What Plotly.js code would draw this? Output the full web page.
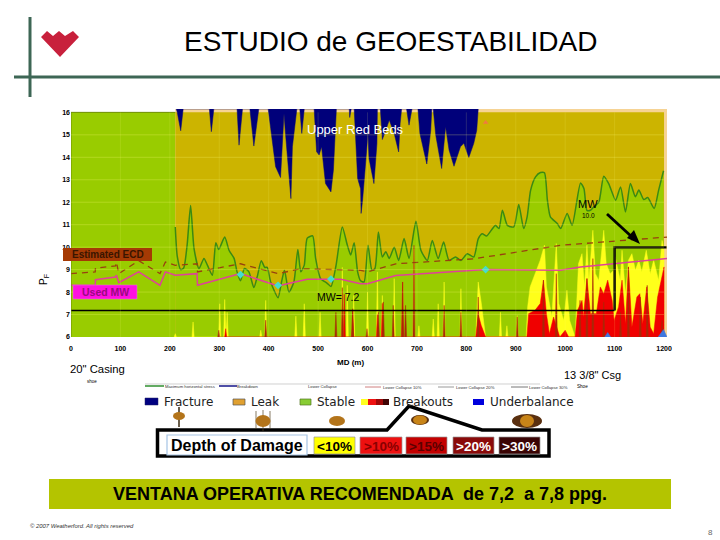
<!DOCTYPE html>
<html>
<head>
<meta charset="utf-8">
<script src="https://cdn.plot.ly/plotly-3.0.1.min.js"></script>
<style>html,body{margin:0;padding:0;background:#fff}#c{width:720px;height:540px}</style>
</head>
<body>
<div id="c"></div>
<script>
// ---------- chart values ----------
const depthTicks = [0,100,200,300,400,500,600,700,800,900,1000,1100,1200];
const ppgTicks = [6,7,8,9,10,11,12,13,14,15,16];

const leakMD = [211,215,222,228,235,242,249,259,269,276,286,293,299,311,320,330,336,343,351,360,370,377,385,392,397,404,419,426,432,441,451,459,465,472,478,489,495,505,518,526,536,549,559,566,573,580,586,593,601,609,615,622,630,637,644,654,663,674,684,698,708,721,731,743,754,765,778,789,802,815,824,832,841,853,859,866,873,883,896,906,916,923,930,940,950,958,964,970,984,991,1004,1014,1031,1038,1044,1051,1058,1068,1078,1088,1102,1112,1122,1132,1142,1149,1159,1167,1180,1189,1199];
const leakPpg = [10.9,9.6,9.0,9.07,10.1,11.85,9.93,9.04,9.5,9.2,8.75,10.2,9.9,10.45,9.85,9.5,8.9,8.5,9.05,8.9,8.2,8.7,9.4,9.1,9.1,8.45,7.75,8.45,8.97,8.0,8.45,9.9,8.9,9.2,10.4,10.5,9.5,8.6,8.4,8.25,9.15,10.9,10.1,9.65,10.2,8.9,8.5,8.45,10.08,8.97,9.05,10.67,9.56,9.8,9.5,10.0,9.41,10.38,9.5,11.15,9.86,9.41,10.3,9.49,10.23,9.41,9.56,9.41,9.71,9.56,10.37,10.6,10.5,10.83,10.97,10.83,11.64,10.97,10.9,11.9,10.83,11.35,12.53,13.13,13.32,13.31,12.09,11.35,11.05,10.83,11.5,10.97,12.86,12.6,11.64,11.64,11.8,12.0,13.16,12.83,12.09,12.68,11.57,12.83,12.24,12.54,12.12,12.21,11.72,12.53,13.4];

const fracTop = 16.15;
const fracMD = [213,215,222,227,280,284,289,336,340,347,362,370,380,399,404,414,424,431,434,445,448,455,457,463,467,472,492,497,502,507,515,526,531,537,563,564,567,573,580,586,587,590,597,601,603,613,619,620,626,630,637,644,654,663,666,669,679,684,690,702,706,720,728,730,733,738,750,758,765,775,788,795,805,815,821,824];
const fracPpg = [16.15,16,15.18,16.15,16.15,15.14,16.15,16.15,14.54,16.15,16.15,14.5,16.15,16.15,15.29,13.58,13.1,15.95,15.06,12.16,14.47,15.88,16.15,16.15,15.06,16.15,16.15,14.25,14.1,14.47,12.83,12.46,13.43,16.15,16.15,15.77,16.15,16.15,13.06,12.6,11.5,12.09,14.17,15.06,13.95,12.83,14.6,16.15,16.15,14.79,15.2,15.66,15.06,14.24,15.5,16.15,16.15,15.43,16.15,16.15,15.06,13.7,15.21,16.15,16.15,14.99,13.5,15.36,14.32,13.6,14.47,14.62,13.99,14.62,15.2,16.15];

const yellowSpikeMD = [211,247,301,311,316,384,394,455,472,504,549,559,572,600,620,630,654,671,694,704,733,743,755,789,869,882,903];
const yellowSpikePpg = [6.15,6.67,7.48,7.67,7.1,6.3,7.63,6.93,7.48,7.1,9.1,8.3,7.85,8.0,8.9,7.85,8.6,8.45,9.93,6.5,6.8,7.48,8.45,8.15,7.1,6.5,6.95];
const yellowBandMD = [819,824,830,839,921,924,929,939,949.5,958,962,973,982,987,997,1003.5,1009,1020,1024,1027,1034,1039,1044,1048,1056,1061,1068,1078,1083,1091,1098,1101,1111.5,1115,1122,1128,1135,1142,1149,1155,1164,1172,1179,1189,1196,1200,1200];
const yellowBandPpg = [6,8.45,7.55,6,6,7.34,8.23,8.82,9.42,10.09,8.23,6.9,10.16,7.49,6.74,8.08,6.74,6,7.78,9.27,9.71,8.23,10.09,8.52,10.75,8.82,8.52,10.75,9.27,8.82,8.97,9.57,8.52,9.86,7.93,9.42,9.71,8.97,9.42,8.9,9.86,8.82,9.42,8.52,10.3,9.9,6];

const redSpikeMD = [313,553,570,620,630,671];
const redSpikePpg = [6.37,7.9,7.2,7.0,7.5,8.45];
const redBandMD = [819,824,830,839,922.5,926,939,949.5,956,962,968,976.5,989,1000,1007,1020,1025,1034,1037,1044,1051,1063,1071,1078,1086,1095,1099,1108,1115,1122,1128,1135,1145,1151,1157,1165,1172,1179,1187,1196,1200,1200];
const redBandPpg = [6,7.0,6.52,6,6,7.04,7.19,7.49,8.53,7.04,6.15,6.89,6,6.3,6,6,7.19,7.63,6.89,8.6,7.04,7.04,8.23,7.93,8.53,7.63,6.74,7.34,8.53,6.59,9.12,6.44,7.78,7.93,6.59,8.23,6.44,6.15,7.78,8.82,9.12,6];

const darkSpikeMD = [299,394,536,549,570,599,622,632,652,671,677,694,755,789,824,903,956,982,1030,1044,1056,1078,1112,1128,1152,1166,1196];
const darkSpikePpg = [6.3,6.75,7.1,8.2,7.26,6.37,7.1,7.56,7.41,8.45,7.41,10.08,7.41,7.1,7.78,6.9,8.53,8.82,7.63,8.6,9.49,7.56,7.1,9.12,7.78,8.3,6.74];

const mwMD = [0,49,49.5,90,92,96.6,137,180,191,211,255,256,343,419,438,478,546,586,600,657,839,990,1031,1206];
const mwPpg = [8.3,8.3,8.55,8.67,8.75,8.42,8.9,8.3,8.9,8.75,8.82,8.3,8.82,8.27,8.37,8.57,8.57,8.37,8.37,8.74,9.0,8.97,9.12,9.49];
const ecdMD = [0,49,49.5,90,92,96.6,137,180,191,211,255,256,343,419,465,586,600,657,815,839,990,1206];
const ecdPpg = [8.82,8.9,9.07,9.16,9.34,8.82,9.4,8.82,9.34,9.19,9.26,8.9,9.26,8.82,9.04,8.97,8.9,9.26,9.48,9.56,10.08,10.45];
const lowWindowMD = [0,1100];
const lowWindowPpg = [7.18,7.18];
const highWindowMD = [1100,1100,1205];
const highWindowPpg = [7.18,9.99,9.99];
const surveyMD = [343,419,526,839];
const surveyPpg = [8.78,8.3,8.58,9.0];
const underMD = [1080,1086,1092];
const underPpg = [6,6.2,6];
const under2MD = [1188,1199,1206];
const under2Ppg = [6,6.33,6];
const flagMD = [839];
const flagPpg = [15.55];

// ---------- helpers ----------
const W = 720, H = 540;
const PX = x => x / W, PY = y => 1 - y / H;
const rect = (x0,y0,x1,y1,fill,lineColor,lineWidth) => ({type:'rect',xref:'paper',yref:'paper',x0:PX(x0),x1:PX(x1),y0:PY(y0),y1:PY(y1),fillcolor:fill,line:{color:lineColor||fill,width:lineWidth===undefined?0:lineWidth}});
const seg = (x0,y0,x1,y1,color,width) => ({type:'line',xref:'paper',yref:'paper',x0:PX(x0),x1:PX(x1),y0:PY(y0),y1:PY(y1),line:{color:color,width:width}});
const oval = (cx,cy,rx,ry,fill,lineColor) => ({type:'circle',xref:'paper',yref:'paper',x0:PX(cx-rx),x1:PX(cx+rx),y0:PY(cy-ry),y1:PY(cy+ry),fillcolor:fill,line:{color:lineColor||fill,width:lineColor?1:0}});
const poly = (pts,fill,lineColor,lineWidth) => ({type:'path',xref:'paper',yref:'paper',path:'M'+pts.map(p=>PX(p[0])+','+PY(p[1])).join('L')+'Z',fillcolor:fill,line:{color:lineColor||fill,width:lineWidth||0}});
const SANS = 'Liberation Sans, Arial, sans-serif';
const note = (text,x,y,size,color,extra) => Object.assign({xref:'paper',yref:'paper',x:PX(x),y:PY(y),text:text,showarrow:false,xanchor:'center',yanchor:'middle',font:{family:SANS,size:size,color:color||'#000'}},extra||{});
const zone = (text,x) => note(text,x,402,12,'#222',{xanchor:'left',font:{family:'DejaVu Sans',size:12,color:'#222'}});
function spikes(xs,ys,half){
  const order = xs.map((_,i)=>i).sort((a,b)=>xs[a]-xs[b]);
  const ox=[],oy=[];
  order.forEach(i=>{ox.push(xs[i]-half,xs[i],xs[i]+half);oy.push(6,ys[i],6);});
  return {x:ox,y:oy};
}
function merged(xs,ys,half,bandX,bandY){
  const s = spikes(xs,ys,half);
  return {x:s.x.concat(bandX),y:s.y.concat(bandY)};
}
const area = (d,color) => ({x:d.x,y:d.y,type:'scatter',mode:'lines',fill:'tozeroy',fillcolor:color,line:{color:color,width:0.5},hoverinfo:'skip',showlegend:false});
const path = (x,y,line) => ({x:x,y:y,type:'scatter',mode:'lines',line:line,hoverinfo:'skip',showlegend:false});

// ---------- traces ----------
const traces = [];
traces.push({x:leakMD,y:leakPpg,type:'scatter',mode:'lines',fill:'tozeroy',fillcolor:'#99cc00',line:{color:'#3b8a12',width:1.5,shape:'spline',smoothing:0.6},hoverinfo:'skip',showlegend:false});
traces.push({x:[fracMD[0]].concat(fracMD,[fracMD[fracMD.length-1]]),y:[fracTop].concat(fracPpg,[fracTop]),type:'scatter',mode:'lines',fill:'toself',fillcolor:'#00007a',line:{color:'#00007a',width:0.5},hoverinfo:'skip',showlegend:false});
traces.push(area(merged(yellowSpikeMD,yellowSpikePpg,2.2,yellowBandMD,yellowBandPpg),'#ffff1a'));
traces.push(area(merged(redSpikeMD,redSpikePpg,2,redBandMD,redBandPpg),'#f00000'));
traces.push(area(spikes(darkSpikeMD,darkSpikePpg,2),'#a82a08'));
traces.push(path(ecdMD,ecdPpg,{color:'#99400f',width:1.3,dash:'6px,5px'}));
traces.push(path(mwMD,mwPpg,{color:'#e0409a',width:1.5}));
traces.push(path(lowWindowMD,lowWindowPpg,{color:'#000',width:1.5}));
traces.push(path(highWindowMD,highWindowPpg,{color:'#000',width:2.4}));
traces.push({x:surveyMD,y:surveyPpg,type:'scatter',mode:'markers',marker:{symbol:'diamond',size:6,color:'#44ddcc'},hoverinfo:'skip',showlegend:false});
traces.push({x:underMD,y:underPpg,type:'scatter',mode:'lines',fill:'toself',fillcolor:'#3f78e0',line:{color:'#3f78e0',width:0.5},hoverinfo:'skip',showlegend:false});
traces.push({x:under2MD,y:under2Ppg,type:'scatter',mode:'lines',fill:'toself',fillcolor:'#3f78e0',line:{color:'#3f78e0',width:0.5},hoverinfo:'skip',showlegend:false});
traces.push({x:flagMD,y:flagPpg,type:'scatter',mode:'markers',marker:{symbol:'triangle-up',size:5,color:'#f07a40'},hoverinfo:'skip',showlegend:false});

// ---------- shapes ----------
const shapes = [
  {type:'rect',layer:'below',xref:'x',yref:'y',x0:211,x1:1206,y0:6,y1:16.15,fillcolor:'#f6d394',line:{width:0}},
  {type:'rect',layer:'below',xref:'x',yref:'y',x0:0,x1:211,y0:6,y1:16,fillcolor:'#99cc00',line:{width:0}},
  {type:'rect',layer:'below',xref:'x',yref:'y',x0:211,x1:1200,y0:6,y1:16,fillcolor:'#ccb400',line:{width:0}},
  {type:'line',xref:'x',yref:'y',x0:0,x1:211,y0:16,y1:16,line:{color:'#6f8f00',width:1}},
  {type:'line',xref:'x',yref:'y',x0:0,x1:0,y0:6,y1:16,line:{color:'#6f8f00',width:1}},
];
ppgTicks.slice(1,-1).forEach(v=>shapes.push({type:'line',xref:'x',yref:'y',x0:0,x1:1200,y0:v,y1:v,line:{color:'rgba(255,255,120,0.25)',width:1}}));
depthTicks.slice(1,-1).forEach(v=>shapes.push({type:'line',xref:'x',yref:'y',x0:v,x1:v,y0:6,y1:16,line:{color:'rgba(255,255,120,0.14)',width:1}}));
shapes.push(
  // page rules and logo
  seg(30,17,30,97,'#3d6655',3),
  seg(14,77,720,77,'#3d6655',3),
  poly([[41,37],[47,31],[53,36],[59,31],[65,36],[73,31],[79,37],[60,57]],'#c8203c'),
  // callout boxes on the chart
  rect(63,248,152,261,'#a53a04'),
  rect(73,285,137,299,'#ff10e0','#e080d0',0.5),
  // arrow towards the operating window
  seg(607,214,632,237,'#000',2.8),
  poly([[640,244],[627,238],[634,230]],'#000'),
  // line legend
  seg(145,384,540,384,'#bbbbbb',0.7),
  seg(145,386,164,386,'#2f8f2f',1.5),
  seg(219,386,237,386,'#14148a',1.5),
  seg(365,387,381,387,'#d08080',1),
  seg(438,387,454,387,'#999999',1),
  seg(511,387,528,387,'#777777',1),
  // zone legend
  rect(145,398,158,405,'#000080','#222266',0.5),
  rect(233,399,245,405,'#e0a030','#555',0.7),
  rect(300,399,311,405,'#88cc33','#557722',0.7),
  rect(361,399,368,405,'#ffff20'),
  rect(368,399,376,405,'#ee1111'),
  rect(376,399,383,405,'#a00808'),
  rect(383,399,389,405,'#400404'),
  rect(473,399,484,405,'#0000dd'),
  // damage box
  poly([[157.5,430],[387,430],[409,406],[482,430],[549,430],[549,456],[157.5,456]],'#ffffff','#000000',3.5),
  rect(167,435,307,455,'#ffffff','#a5c4e4',1.2),
  rect(314,437,355,454,'#ffff00','#999999',0.7),
  rect(360,437,402,454,'#ee1010','#999999',0.7),
  rect(406,437,447,454,'#c40000','#999999',0.7),
  rect(453,437,494,454,'#8a0a0a','#999999',0.7),
  rect(499,437,540,454,'#3a0404','#999999',0.7),
  // hole-shape icons
  seg(179,407,179,427,'#3a2a10',1.5),
  oval(179,416,6,4,'#b3741a'),
  seg(256,411,256,429,'#554422',0.7),
  seg(263,410,263,431,'#554422',0.7),
  seg(270,411,270,429,'#554422',0.7),
  oval(263,421,7.5,6,'#b3741a'),
  oval(337,421,8,5,'#b3741a'),
  oval(420,420,9,5,'#5a3010'),
  oval(420,420,7,4.5,'#c88418'),
  oval(527,421,15,7,'#5a3010'),
  oval(527,421,7,6,'#c88418'),
  // recommendation band
  rect(49,479,671,509,'#b4c400')
);

// ---------- text ----------
const annotations = [
  note('ESTUDIO de GEOESTABILIDAD',391,41,28,'#000'),
  note('Upper Red Beds',355,129,13,'#ffffff'),
  note('<b>Estimated ECD</b>',107.5,254.5,10,'#3a1500'),
  note('<b>Used MW</b>',105,292,10.5,'#9a0a80'),
  note('MW= 7.2',338,297,10.5,'#000'),
  note('MW',588,204,11,'#000'),
  note('10.0',588,215,6.5,'#000'),
  note('P<sub>F</sub>',44,280,10,'#000',{textangle:-90}),
  note('<b>MD (m)</b>',350,362,8,'#000'),
  note('20" Casing',97,369,11.3,'#000'),
  note('shoe',92,381,4.5,'#000'),
  note('13 3/8" Csg',592,375,11,'#000'),
  note('Shoe',582,386,4.6,'#000'),
  note('Maximum horizontal stress',190,386,4.2,'#333'),
  note('Breakdown',248,386,4.2,'#333'),
  note('Lower Collapse',323,386,4.2,'#333'),
  note('Lower Collapse 10%',402,387,4.2,'#333'),
  note('Lower Collapse 20%',475,387,4.2,'#333'),
  note('Lower Collapse 30%',548,387,4.2,'#333'),
  zone('Fracture',162),
  zone('Leak',249),
  zone('Stable',315),
  zone('Breakouts',391),
  zone('Underbalance',488),
  note('<b>Depth of Damage</b>',237,445,16,'#000'),
  note('<b>&lt;10%</b>',334.5,446,13.5,'#000'),
  note('<b>&gt;10%</b>',381,446,13.5,'#8a0000'),
  note('<b>&gt;15%</b>',426.5,446,13.5,'#5a0000'),
  note('<b>&gt;20%</b>',473.5,446,13.5,'#ffffff'),
  note('<b>&gt;30%</b>',519.5,446,13.5,'#ffffff'),
  note('<b>VENTANA OPERATIVA RECOMENDADA  de 7,2  a 7,8 ppg.</b>',360,494,18,'#000'),
  note('<i>© 2007 Weatherford. All rights reserved</i>',82,526,5.9,'#333'),
  note('8',710,532,8,'#666')
];

const layout = {
  width:W,height:H,
  margin:{l:0,r:0,t:0,b:0},
  paper_bgcolor:'#ffffff',
  plot_bgcolor:'#ffffff',
  showlegend:false,
  xaxis:{domain:[PX(71),PX(667)],range:[0,1206],tickmode:'array',tickvals:depthTicks,ticktext:depthTicks.map(v=>'<b>'+v+'</b>'),ticks:'',showgrid:false,zeroline:false,showline:false,tickfont:{family:SANS,size:7,color:'#000'},ticklabelstandoff:6},
  yaxis:{domain:[PY(337),PY(109)],range:[6,16.15],tickmode:'array',tickvals:ppgTicks,ticktext:ppgTicks.map(v=>'<b>'+v+'</b>'),ticks:'',showgrid:false,zeroline:false,showline:false,tickfont:{family:SANS,size:7,color:'#000'}},
  shapes:shapes,
  annotations:annotations
};
Plotly.newPlot('c',traces,layout,{staticPlot:true,displayModeBar:false});
</script>
</body>
</html>
